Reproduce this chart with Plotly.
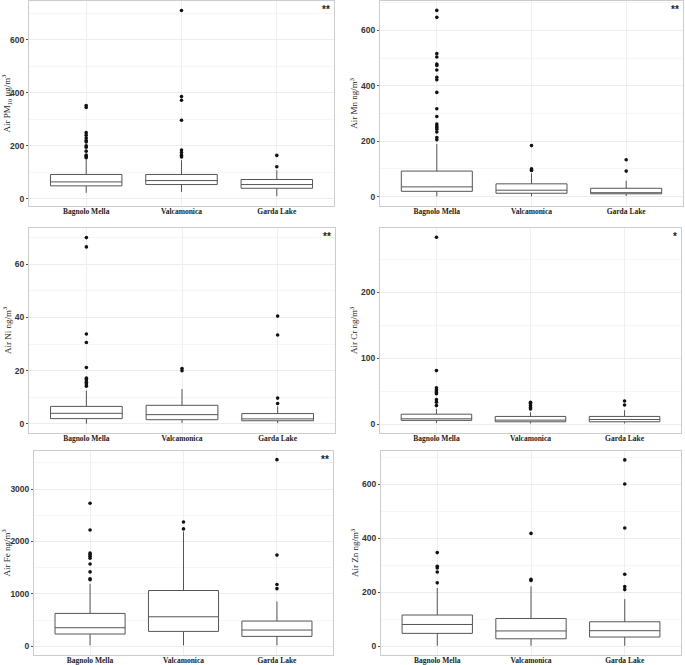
import plotly.graph_objects as go

sites = ["Bagnolo Mella", "Valcamonica", "Garda Lake"]

# ---- PM10 (ug/m3) ----
pm10_q1 = [49, 54, 40]
pm10_med = [64, 69, 54]
pm10_q3 = [92, 92, 73]
pm10_lo = [23, 26, 10]
pm10_hi = [149, 146, 108]
pm10_out_bm = [345, 352, 250, 240, 230, 220, 215, 200, 195, 180, 165, 160, 155]
pm10_out_vc = [711, 386, 372, 297, 184, 175, 165, 158]
pm10_out_gl = [164, 121]

# ---- Mn (ng/m3) ----
mn_q1 = [19, 12, 10]
mn_med = [35, 23, 14]
mn_q3 = [92, 46, 30]
mn_lo = [1, 1, 2]
mn_hi = [190, 84, 57]
mn_out_bm = [672, 647, 516, 504, 478, 473, 457, 431, 422, 376, 317, 289, 262, 255,
             249, 243, 233, 213, 205]
mn_out_vc = [184, 100, 96, 94]
mn_out_gl = [133, 92]

# ---- Ni (ng/m3) ----
ni_q1 = [2.0, 1.6, 1.2]
ni_med = [4.0, 3.5, 1.9]
ni_q3 = [6.6, 7.0, 3.9]
ni_lo = [0.1, 0.4, 0.3]
ni_hi = [12.5, 13.1, 6.6]
ni_out_bm = [70, 66.5, 33.8, 30.6, 21.2, 17.2, 16.5, 15.7, 15.0, 14.2]
ni_out_vc = [20.8, 20.0]
ni_out_gl = [40.5, 33.4, 9.7, 7.7]

# ---- Cr (ng/m3) ----
cr_q1 = [5.6, 3.5, 3.5]
cr_med = [8, 6, 7]
cr_q3 = [15, 11.6, 11.6]
cr_lo = [1.5, 1, 1]
cr_hi = [23, 18, 21]
cr_out_bm = [283, 81, 55, 52, 50, 48, 46, 37, 33, 28]
cr_out_vc = [33, 31, 28, 25, 23]
cr_out_gl = [35, 29]

# ---- Fe (ng/m3) ----
fe_q1 = [235, 285, 190]
fe_med = [355, 564, 311]
fe_q3 = [628, 1065, 482]
fe_lo = [19, 19, 19]
fe_hi = [1192, 2188, 856]
fe_out_bm = [2730, 2220, 1780, 1750, 1720, 1680, 1570, 1420, 1290, 1270]
fe_out_vc = [2370, 2240]
fe_out_gl = [3560, 1740, 1180, 1100]

# ---- Zn (ng/m3) ----
zn_q1 = [48, 28, 34.5]
zn_med = [81, 57, 58]
zn_q3 = [116, 103, 91]
zn_lo = [2, 2, 2]
zn_hi = [216, 222, 175]
zn_out_bm = [347, 296, 290, 275, 235]
zn_out_vc = [418, 248, 244]
zn_out_gl = [690, 601, 438, 267, 221, 210]

titles = ["Air PM<sub>10</sub> \u03bcg/m<sup>3</sup>", "Air Mn ng/m<sup>3</sup>",
          "Air Ni ng/m<sup>3</sup>", "Air Cr ng/m<sup>3</sup>",
          "Air Fe ng/m<sup>3</sup>", "Air Zn ng/m<sup>3</sup>"]
signif = ["**", "**", "**", "*", "**", ""]
yticks = [[0, 200, 400, 600], [0, 200, 400, 600], [0, 20, 40, 60],
          [0, 100, 200], [0, 1000, 2000, 3000], [0, 200, 400, 600]]
yminor = [100, 100, 10, 50, 500, 100]
yranges = [[-27, 747], [-34, 706], [-3.4, 73.6], [-13.5, 297], [-165, 3725], [-32, 723]]

panels = [
    (pm10_q1, pm10_med, pm10_q3, pm10_lo, pm10_hi, [pm10_out_bm, pm10_out_vc, pm10_out_gl]),
    (mn_q1, mn_med, mn_q3, mn_lo, mn_hi, [mn_out_bm, mn_out_vc, mn_out_gl]),
    (ni_q1, ni_med, ni_q3, ni_lo, ni_hi, [ni_out_bm, ni_out_vc, ni_out_gl]),
    (cr_q1, cr_med, cr_q3, cr_lo, cr_hi, [cr_out_bm, cr_out_vc, cr_out_gl]),
    (fe_q1, fe_med, fe_q3, fe_lo, fe_hi, [fe_out_bm, fe_out_vc, fe_out_gl]),
    (zn_q1, zn_med, zn_q3, zn_lo, zn_hi, [zn_out_bm, zn_out_vc, zn_out_gl]),
]

W, H = 685, 665
# panel pixel boxes: (x0, x1, y0top, y1bottom)
boxes = [(29, 334, 1, 206), (380, 683, 1, 206),
         (29, 335, 228, 433), (380, 681, 228, 433),
         (34, 333, 451, 655), (381, 681, 451, 655)]

fig = go.Figure()
layout = dict(
    width=W, height=H, margin=dict(l=0, r=0, t=0, b=0),
    paper_bgcolor="white", plot_bgcolor="white", showlegend=False,
    annotations=[],
)

for i, (q1, med, q3, lo, hi, outs) in enumerate(panels):
    n = i + 1
    xa = "x" if n == 1 else f"x{n}"
    ya = "y" if n == 1 else f"y{n}"
    fig.add_trace(go.Box(
        x=sites, q1=q1, median=med, q3=q3, lowerfence=lo, upperfence=hi,
        boxpoints=False, width=0.75, whiskerwidth=0,
        fillcolor="white", line=dict(color="#555555", width=1),
        xaxis=xa, yaxis=ya,
    ))
    ox, oy = [], []
    for s, vals in zip(sites, outs):
        ox += [s] * len(vals)
        oy += vals
    fig.add_trace(go.Scatter(
        x=ox, y=oy, mode="markers",
        marker=dict(color="#111111", size=3.6),
        xaxis=xa, yaxis=ya,
    ))
    x0, x1, yt, yb = boxes[i]
    xkey = "xaxis" if n == 1 else f"xaxis{n}"
    ykey = "yaxis" if n == 1 else f"yaxis{n}"
    layout[xkey] = dict(
        domain=[x0 / W, x1 / W], anchor=ya, type="category",
        categoryorder="array", categoryarray=sites, range=[-0.6, 2.6],
        tickvals=sites, ticktext=[f"<b>{s}</b>" for s in sites],
        showline=True, mirror=True, linecolor="#cccccc", linewidth=1,
        showgrid=True, gridcolor="#efefef", gridwidth=1,
        ticks="", ticklabelstandoff=-2,
        tickfont=dict(family="Liberation Serif", size=7.5, color="#222222"),
        zeroline=False,
    )
    layout[ykey] = dict(
        domain=[1 - yb / H, 1 - yt / H], anchor=xa, range=yranges[i],
        tickvals=yticks[i], ticktext=[f"<b>{v}</b>" for v in yticks[i]],
        showline=True, mirror=True, linecolor="#cccccc",
        linewidth=1, showgrid=True, gridcolor="#ececec", gridwidth=1,
        minor=dict(dtick=yminor[i], tick0=0, showgrid=True, gridcolor="#f6f6f6", ticks=""),
        ticks="outside", ticklen=2, tickcolor="#555555",
        tickfont=dict(family="Liberation Sans", size=8.5, color="#333333"),
        zeroline=False,
        title=dict(text=titles[i], standoff=1,
                   font=dict(family="Liberation Serif", size=9, color="#222222")),
    )
    if signif[i]:
        layout["annotations"].append(dict(
            text="<b>" + signif[i] + "</b>", x=(x1 - 2) / W, y=1 - (yt + 1) / H,
            xref="paper", yref="paper",
            xanchor="right", yanchor="top", showarrow=False,
            font=dict(family="Liberation Sans", size=10, color="#222222"),
        ))

fig.update_layout(**layout)
fig.write_html("out.html", config={"displayModeBar": False},
               post_script="document.body.style.margin='0';")
